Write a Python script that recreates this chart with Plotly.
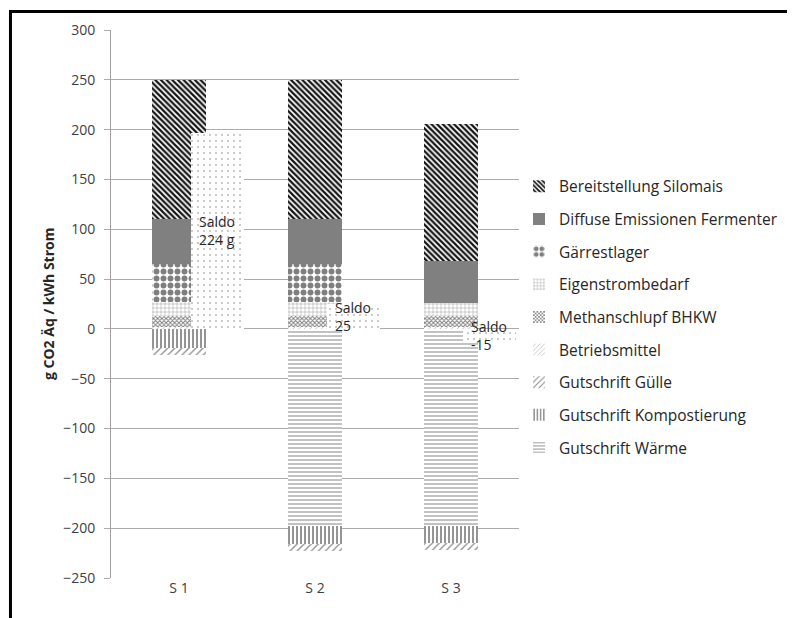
import plotly.graph_objects as go

categories = ["S 1", "S 2", "S 3"]
bereitstellung = [140, 140, 138]
diffuse = [45, 45, 42]
gaerrest = [38, 38, 0]
eigenstrom = [14, 14, 13]
methan = [11.5, 11.5, 11]
betriebsmittel = [1.5, 1.5, 2]
guelle = [-7, -7, -7]
kompost = [-19, -18, -17]
waerme = [0, -198, -198]
saldo = [197, 25, -13]
saldo_labels = ["224 g", "25", "-15"]
y_ticks = [300, 250, 200, 150, 100, 50, 0, -50, -100, -150, -200, -250]

xpos = list(range(len(categories)))
SALDO_SHIFT = 0.28
xsaldo = [x + SALDO_SHIFT for x in xpos]

FONT = "Open Sans"

# plotting order: first trace is closest to zero in a relative stack
series = [
    ("Gutschrift Wärme", waerme, dict(shape="-", fgcolor="#a8a8a8", size=4, solidity=0.35)),
    ("Gutschrift Kompostierung", kompost, dict(shape="|", fgcolor="#7a7a7a", size=4, solidity=0.4)),
    ("Gutschrift Gülle", guelle, dict(shape="/", fgcolor="#8a8a8a", size=5, solidity=0.25)),
    ("Betriebsmittel", betriebsmittel, dict(shape="/", fgcolor="#b0b0b0", size=4, solidity=0.2)),
    ("Methanschlupf BHKW", methan, dict(shape="x", fgcolor="#7a7a7a", size=3, solidity=0.5)),
    ("Eigenstrombedarf", eigenstrom, dict(shape="+", fgcolor="#8c8c8c", size=4, solidity=0.2)),
    ("Gärrestlager", gaerrest, dict(shape=".", fgcolor="#7f7f7f", size=7, solidity=0.55)),
    ("Diffuse Emissionen Fermenter", diffuse, None),
    ("Bereitstellung Silomais", bereitstellung, dict(shape="\\", fgcolor="#141414", size=4, solidity=0.55)),
]

fig = go.Figure()
n = len(series)
for i, (name, vals, pat) in enumerate(series):
    if pat is None:
        marker = dict(color="#808080", line=dict(width=0))
    else:
        p = dict(pat)
        p.update(bgcolor="white", fillmode="replace")
        marker = dict(color="white", pattern=p, line=dict(width=0))
    fig.add_trace(go.Bar(
        x=xpos, y=vals, name=name, width=0.4, marker=marker,
        legendgroup=name, legendrank=n - i, hoverinfo="skip",
    ))

fig.add_trace(go.Bar(
    x=xsaldo, y=saldo, name="Saldo", width=0.39, showlegend=False,
    marker=dict(color="white", line=dict(width=0),
                pattern=dict(shape=".", fgcolor="#8a8a8a", bgcolor="white",
                             size=6, solidity=0.06, fillmode="replace")),
    hoverinfo="skip",
))

for xs, s, lab in zip(xsaldo, saldo, saldo_labels):
    fig.add_annotation(x=xs, y=s / 2, text="Saldo<br>" + lab, showarrow=False,
                       font=dict(family=FONT, size=14, color="#262626"),
                       xanchor="center", yanchor="middle", align="left")

fig.add_annotation(xref="paper", yref="paper", x=0, y=0.5, xshift=-63,
                   text="<b>g CO2 Äq / kWh Strom</b>", textangle=-90, showarrow=False,
                   font=dict(family=FONT, size=14, color="#262626"),
                   xanchor="center", yanchor="middle")

# outer chart frame
fig.add_shape(type="rect", xref="paper", yref="paper",
              x0=-0.2464, x1=1.75, y0=-0.12, y1=1.0336,
              line=dict(color="black", width=3), fillcolor="rgba(0,0,0,0)")

fig.update_layout(
    width=787, height=610,
    margin=dict(l=103, r=272, t=20, b=40),
    paper_bgcolor="white", plot_bgcolor="white",
    barmode="relative", bargap=0,
    font=dict(family=FONT, color="#404040"),
    xaxis=dict(range=[-0.5, 2.5], tickmode="array", tickvals=xpos, ticktext=categories,
               showgrid=False, zeroline=False, showline=False, ticks="",
               tickfont=dict(size=14, color="#404040")),
    yaxis=dict(range=[-250, 300], tickmode="array", tickvals=y_ticks,
               showgrid=True, gridcolor="#ababab", gridwidth=1,
               zeroline=False, showline=True, linecolor="#a0a0a0", linewidth=1,
               ticks="outside", ticklen=6, tickcolor="#ababab", ticklabelstandoff=6,
               tickfont=dict(size=14, color="#404040")),
    legend=dict(x=1.0, y=0.745, xanchor="left", yanchor="top",
                traceorder="grouped", tracegroupgap=9.5,
                bgcolor="rgba(0,0,0,0)", itemwidth=30,
                font=dict(family=FONT, size=15.5, color="#262626")),
)

fig.write_html("out.html")
